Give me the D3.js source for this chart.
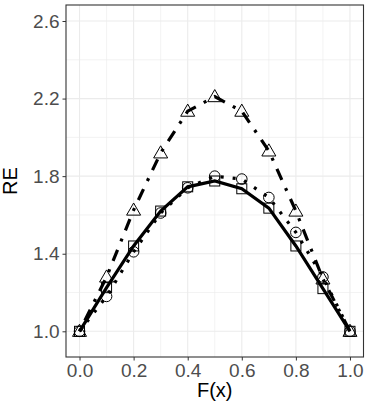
<!DOCTYPE html>
<html>
<head>
<meta charset="utf-8">
<script src="https://cdn.jsdelivr.net/npm/d3@7"></script>
<style>
  body { margin: 0; background: #fff; }
  text { font-family: "Liberation Sans", Arial, Helvetica, sans-serif; }
</style>
</head>
<body>
<div id="chart-area"></div>
<script>

/* data */
const fx = [0.0, 0.1, 0.2, 0.3, 0.4, 0.5, 0.6, 0.7, 0.8, 0.9, 1.0];
const reTriangle = [1.00, 1.28, 1.625, 1.92, 2.135, 2.21, 2.135, 1.93, 1.62, 1.27, 1.00];
const reCircle = [1.00, 1.18, 1.41, 1.61, 1.74, 1.80, 1.785, 1.69, 1.51, 1.28, 1.00];
const reSquare = [1.00, 1.225, 1.44, 1.62, 1.745, 1.775, 1.735, 1.635, 1.44, 1.22, 1.00];

const xTicks = [0.0, 0.2, 0.4, 0.6, 0.8, 1.0];
const xMinor = [0.1, 0.3, 0.5, 0.7, 0.9];
const yTicks = [1.0, 1.4, 1.8, 2.2, 2.6];
const yMinor = [1.2, 1.6, 2.0, 2.4];

/* graphical constants */
const W = 371, H = 409;
const margin = { left: 66, right: 7.5, top: 5, bottom: 52 };
const width = W - margin.left - margin.right;
const height = H - margin.top - margin.bottom;

const svg = d3.select("#chart-area")
    .append("svg")
    .attr("width", W)
    .attr("height", H);

const g = svg.append("g")
    .attr("transform", "translate(" + margin.left + "," + margin.top + ")");

const x = d3.scaleLinear().domain([-0.05, 1.05]).range([0, width]);
const y = d3.scaleLinear().domain([0.8675, 2.6825]).range([height, 0]);

// grid
g.selectAll(".xminor").data(xMinor).enter().append("line")
    .attr("x1", d => x(d)).attr("x2", d => x(d))
    .attr("y1", 0).attr("y2", height)
    .attr("stroke", "#ebebeb").attr("stroke-width", 0.6);
g.selectAll(".yminor").data(yMinor).enter().append("line")
    .attr("y1", d => y(d)).attr("y2", d => y(d))
    .attr("x1", 0).attr("x2", width)
    .attr("stroke", "#ebebeb").attr("stroke-width", 0.6);
g.selectAll(".xmajor").data(xTicks).enter().append("line")
    .attr("x1", d => x(d)).attr("x2", d => x(d))
    .attr("y1", 0).attr("y2", height)
    .attr("stroke", "#ebebeb").attr("stroke-width", 1.1);
g.selectAll(".ymajor").data(yTicks).enter().append("line")
    .attr("y1", d => y(d)).attr("y2", d => y(d))
    .attr("x1", 0).attr("x2", width)
    .attr("stroke", "#ebebeb").attr("stroke-width", 1.1);

// axes
const xAxisGroup = g.append("g")
    .attr("transform", "translate(0," + height + ")")
    .call(d3.axisBottom(x).tickValues(xTicks).tickFormat(d3.format(".1f")).tickSize(3.5).tickPadding(3));
const yAxisGroup = g.append("g")
    .call(d3.axisLeft(y).tickValues(yTicks).tickFormat(d3.format(".1f")).tickSize(3.5).tickPadding(3));

[xAxisGroup, yAxisGroup].forEach(ax => {
    ax.select(".domain").remove();
    ax.selectAll(".tick line").attr("stroke", "#333333").attr("stroke-width", 1);
    ax.selectAll(".tick text")
        .attr("fill", "#4d4d4d")
        .style("font-size", "19px")
        .style("font-family", "'Liberation Sans', Arial, sans-serif");
});

// lines
const rows = key => fx.map((v, i) => ({ x: v, y: key[i] }));
const line = d3.line().x(d => x(d.x)).y(d => y(d.y));

g.append("path")
    .attr("d", line(rows(reSquare)))
    .attr("fill", "none")
    .attr("stroke", "#000")
    .attr("stroke-width", 3.2);

g.append("path")
    .attr("d", line(rows(reTriangle)))
    .attr("fill", "none")
    .attr("stroke", "#000")
    .attr("stroke-width", 3.2)
    .attr("stroke-dasharray", "3,9,12,9");

g.append("path")
    .attr("d", line(rows(reCircle)))
    .attr("fill", "none")
    .attr("stroke", "#000")
    .attr("stroke-width", 3.2)
    .attr("stroke-dasharray", "3,9");

// points
g.selectAll(".sq").data(rows(reSquare)).enter().append("rect")
    .attr("x", d => x(d.x) - 5).attr("y", d => y(d.y) - 5)
    .attr("width", 10).attr("height", 10)
    .attr("fill", "none").attr("stroke", "#000").attr("stroke-width", 1);

g.selectAll(".ci").data(rows(reCircle)).enter().append("circle")
    .attr("cx", d => x(d.x)).attr("cy", d => y(d.y))
    .attr("r", 5.3)
    .attr("fill", "none").attr("stroke", "#000").attr("stroke-width", 1);

const tri = d3.symbol().type(d3.symbolTriangle).size(85);
g.selectAll(".tr").data(rows(reTriangle)).enter().append("path")
    .attr("d", tri)
    .attr("transform", d => "translate(" + x(d.x) + "," + (y(d.y) + 1) + ")")
    .attr("fill", "none").attr("stroke", "#000").attr("stroke-width", 1);

// panel border
g.append("rect")
    .attr("width", width).attr("height", height)
    .attr("fill", "none").attr("stroke", "#333333").attr("stroke-width", 1.1);

// titles
svg.append("text")
    .attr("x", margin.left + width / 2)
    .attr("y", 397)
    .attr("text-anchor", "middle")
    .style("font-size", "20px")
    .attr("fill", "#000")
    .text("F(x)");

svg.append("text")
    .attr("transform", "translate(17," + (margin.top + height / 2) + ") rotate(-90)")
    .attr("text-anchor", "middle")
    .style("font-size", "20px")
    .attr("fill", "#000")
    .text("RE");

</script>
</body>
</html>
